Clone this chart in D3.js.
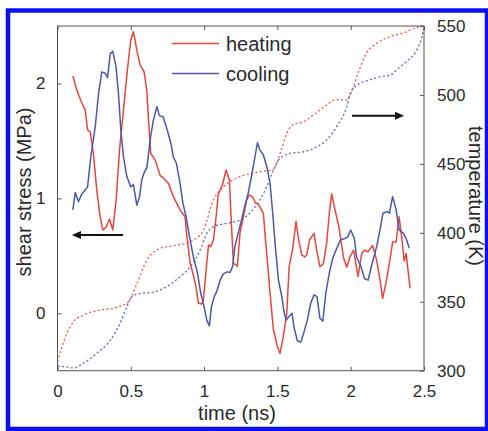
<!DOCTYPE html>
<html>
<head>
<meta charset="utf-8">
<script src="https://cdn.jsdelivr.net/npm/d3@7"></script>
<style>
  html, body { margin: 0; padding: 0; background: #fff; }
  svg text { font-family: "Liberation Sans", Arial, Helvetica, sans-serif; }
</style>
</head>
<body>
<svg id="chart" width="488" height="431"></svg>
<script>
// ---- data ----
const heatingTime = [0.105,0.132,0.166,0.189,0.205,0.223,0.245,0.268,0.291,0.309,0.332,0.355,0.377,0.40,0.423,0.45,0.477,0.50,0.518,0.541,0.564,0.591,0.609,0.62,0.636,0.666,0.70,0.72,0.757,0.79,0.836,0.87,0.88,0.905,0.923,0.945,0.961,0.984,0.995,1.014,1.03,1.045,1.064,1.082,1.097,1.123,1.15,1.173,1.182,1.20,1.227,1.245,1.268,1.29,1.31,1.332,1.35,1.37,1.404,1.427,1.45,1.473,1.50,1.518,1.54,1.564,1.58,1.605,1.627,1.645,1.666,1.686,1.70,1.72,1.75,1.768,1.79,1.813,1.836,1.854,1.87,1.893,1.92,1.95,1.973,1.995,2.02,2.05,2.075,2.095,2.118,2.15,2.177,2.20,2.218,2.24,2.264,2.286,2.31,2.33,2.35,2.365,2.378,2.405];
const heatingStress = [2.065,1.94,1.83,1.77,1.595,1.58,1.39,1.07,0.84,0.725,0.75,0.82,0.725,0.985,1.42,1.77,2.12,2.38,2.45,2.29,2.16,2.10,1.94,1.70,1.39,1.335,1.20,1.18,1.13,1.015,0.90,0.84,0.70,0.435,0.35,0.23,0.087,0.08,0.11,0.376,0.594,0.58,0.64,0.84,1.04,1.11,1.247,1.16,0.88,0.435,0.41,0.70,0.84,0.985,1.03,1.01,0.96,0.95,0.87,0.52,0.174,-0.146,-0.29,-0.35,-0.204,0.0,0.405,0.565,0.80,0.64,0.507,0.49,0.507,0.64,0.695,0.55,0.405,0.43,0.61,0.87,1.04,0.90,0.75,0.49,0.40,0.49,0.55,0.32,0.52,0.55,0.535,0.59,0.46,0.29,0.13,0.26,0.435,0.62,0.62,0.84,0.64,0.455,0.52,0.217];

const coolingTime = [0.105,0.121,0.143,0.166,0.18,0.205,0.227,0.257,0.28,0.302,0.325,0.341,0.36,0.377,0.40,0.416,0.432,0.45,0.473,0.50,0.518,0.541,0.559,0.575,0.59,0.61,0.632,0.654,0.678,0.695,0.72,0.743,0.773,0.79,0.81,0.836,0.855,0.877,0.90,0.927,0.955,0.977,1.0,1.018,1.036,1.05,1.068,1.086,1.11,1.13,1.155,1.177,1.195,1.21,1.232,1.255,1.277,1.30,1.323,1.347,1.364,1.38,1.404,1.427,1.45,1.468,1.486,1.507,1.53,1.547,1.56,1.577,1.60,1.613,1.636,1.66,1.68,1.704,1.727,1.75,1.77,1.79,1.81,1.83,1.854,1.88,1.91,1.93,1.96,1.98,2.0,2.025,2.04,2.07,2.095,2.12,2.14,2.177,2.20,2.22,2.25,2.264,2.286,2.31,2.33,2.36,2.378,2.40];
const coolingStress = [0.90,1.05,0.97,1.04,1.06,1.10,1.36,1.62,1.91,2.10,2.09,2.05,2.26,2.28,2.14,1.91,1.595,1.36,1.19,1.10,1.12,0.94,1.01,1.16,1.22,1.27,1.51,1.68,1.80,1.72,1.71,1.62,1.48,1.36,1.31,1.13,0.96,0.84,0.67,0.49,0.35,0.174,0.057,-0.06,-0.11,0.057,0.14,0.19,0.29,0.34,0.36,0.355,0.41,0.58,0.695,0.81,0.93,1.04,1.19,1.36,1.485,1.42,1.38,1.28,1.13,0.87,0.58,0.29,0.145,0.0,-0.06,-0.03,0.0,-0.12,-0.24,-0.25,-0.17,-0.06,0.087,0.16,0.145,-0.044,-0.07,0.174,0.35,0.49,0.58,0.64,0.65,0.665,0.725,0.65,0.49,0.405,0.30,0.29,0.405,0.58,0.725,0.87,0.885,0.87,1.015,0.90,0.725,0.695,0.65,0.565];

const heatingTempTime = [0,0.03,0.064,0.109,0.177,0.291,0.405,0.484,0.541,0.609,0.70,0.814,0.927,0.995,1.064,1.132,1.245,1.38,1.473,1.518,1.564,1.60,1.68,1.745,1.836,1.90,1.97,2.0,2.05,2.105,2.177,2.268,2.38,2.45,2.5];
const heatingTemp = [306.5,317.4,327,335.5,340.4,344,346,350,363,380,388.8,391,394.8,402,423.8,433.4,440.7,444.3,446,457.6,472,478,480.6,485.4,492.7,496.7,496.3,501,515.7,530,537.4,542.2,545.8,549,550];

const coolingTempTime = [0,0.064,0.109,0.177,0.268,0.36,0.427,0.473,0.507,0.564,0.654,0.745,0.836,0.905,0.973,1.018,1.064,1.155,1.245,1.31,1.38,1.427,1.473,1.518,1.586,1.68,1.77,1.836,1.904,1.973,2.0,2.063,2.13,2.2,2.27,2.325,2.38,2.45,2.485,2.5];
const coolingTemp = [303.4,302.7,302,305.4,312.6,322,334.4,346.4,353.7,356,357,361,368.2,375.4,387.5,399.6,404.5,406.9,409.3,414.1,423.8,433.4,445.5,454,457.6,458.8,462.4,467.3,477,491.4,502,508.4,510.8,513.2,514.4,519.3,524.1,532.5,542,549];

const xTicks = [0, 0.5, 1, 1.5, 2, 2.5];
const xTickLabels = ["0", "0.5", "1", "1.5", "2", "2.5"];
const leftTicks = [0, 1, 2];
const rightTicks = [300, 350, 400, 450, 500, 550];
const seriesNames = ["heating", "cooling"];
const seriesColors = ["#e8453c", "#4c58a8"];

// ---- layout ----
const svg = d3.select("#chart");
const L = 57.5, R = 424, T = 26, B = 370.7;
const x = d3.scaleLinear().domain([0, 2.5]).range([L, R]);
const yL = d3.scaleLinear().domain([-0.5, 2.5]).range([B, T]);
const yR = d3.scaleLinear().domain([300, 550]).range([B, T]);

// blue frame
svg.append("rect").attr("x", 8).attr("y", 10.5).attr("width", 479).attr("height", 418.5)
  .attr("fill", "#fff").attr("stroke", "#0a10f2").attr("stroke-width", 4.5);

const axisColor = "#555";
const textColor = "#2a2a2a";
const tickLen = 4;

const zipper = (ts, vs) => ts.map((t, i) => [t, vs[i]]);

// temperature dotted curves
const tempLine = d3.line().x(d => x(d[0])).y(d => yR(d[1])).curve(d3.curveMonotoneX);
svg.append("path").datum(zipper(heatingTempTime, heatingTemp))
  .attr("d", tempLine).attr("fill", "none").attr("stroke", seriesColors[0])
  .attr("stroke-width", 1.3).attr("stroke-dasharray", "2.2,2.2").attr("opacity", 0.85);
svg.append("path").datum(zipper(coolingTempTime, coolingTemp))
  .attr("d", tempLine).attr("fill", "none").attr("stroke", seriesColors[1])
  .attr("stroke-width", 1.3).attr("stroke-dasharray", "2.2,2.2").attr("opacity", 0.85);

// stress lines
const stressLine = d3.line().x(d => x(d[0])).y(d => yL(d[1]));
svg.append("path").datum(zipper(heatingTime, heatingStress))
  .attr("d", stressLine).attr("fill", "none").attr("stroke", seriesColors[0])
  .attr("stroke-width", 1.5).attr("stroke-linejoin", "round");
svg.append("path").datum(zipper(coolingTime, coolingStress))
  .attr("d", stressLine).attr("fill", "none").attr("stroke", seriesColors[1])
  .attr("stroke-width", 1.5).attr("stroke-linejoin", "round");

// axes box
svg.append("rect").attr("x", L).attr("y", T).attr("width", R - L).attr("height", B - T)
  .attr("fill", "none").attr("stroke", axisColor).attr("stroke-width", 1);

const fontTick = 17;
// bottom axis
const xAxis = d3.axisBottom(x).tickValues(xTicks).tickFormat((d, i) => xTickLabels[i])
  .tickSizeInner(-tickLen).tickSizeOuter(0).tickPadding(14);
const gx = svg.append("g").attr("transform", `translate(0,${B})`).call(xAxis);
// top ticks
const gxt = svg.append("g").attr("transform", `translate(0,${T})`)
  .call(d3.axisTop(x).tickValues(xTicks).tickFormat("").tickSizeInner(-tickLen).tickSizeOuter(0));
// left axis
const gl = svg.append("g").attr("transform", `translate(${L},0)`)
  .call(d3.axisLeft(yL).tickValues(leftTicks).tickFormat(d3.format("d"))
    .tickSizeInner(-tickLen).tickSizeOuter(0).tickPadding(12));
// right axis
const gr = svg.append("g").attr("transform", `translate(${R},0)`)
  .call(d3.axisRight(yR).tickValues(rightTicks).tickFormat(d3.format("d"))
    .tickSizeInner(-tickLen).tickSizeOuter(0).tickPadding(13));

[gx, gxt, gl, gr].forEach(g => {
  g.select(".domain").remove();
  g.selectAll(".tick line").attr("stroke", axisColor);
  g.selectAll(".tick text").attr("fill", textColor).style("font-size", fontTick + "px")
    .style("font-family", '"Liberation Sans", Arial, sans-serif');
});

// axis labels
svg.append("text").attr("transform", "translate(31,192) rotate(-90)")
  .attr("text-anchor", "middle").attr("fill", textColor).style("font-size", "20px")
  .text("shear stress (MPa)");
svg.append("text").attr("transform", "translate(468.5,196) rotate(90)")
  .attr("text-anchor", "middle").attr("fill", textColor).style("font-size", "20px")
  .text("temperature (K)");
svg.append("text").attr("x", 237).attr("y", 420).attr("text-anchor", "middle")
  .attr("fill", textColor).style("font-size", "20px").text("time (ns)");

// legend
const legendY = [43.5, 73.5];
seriesNames.forEach((name, i) => {
  svg.append("line").attr("x1", 172).attr("x2", 219).attr("y1", legendY[i]).attr("y2", legendY[i])
    .attr("stroke", seriesColors[i]).attr("stroke-width", 1.5);
  svg.append("text").attr("x", 226).attr("y", legendY[i] + 7).attr("fill", textColor)
    .style("font-size", "20px").text(name);
});

// arrows
function arrow(xFrom, xTo, yv) {
  const dir = Math.sign(xTo - xFrom);
  const head = 9, hw = 4;
  svg.append("line").attr("x1", xFrom).attr("x2", xTo - dir * head).attr("y1", yv).attr("y2", yv)
    .attr("stroke", "#111").attr("stroke-width", 2);
  svg.append("path")
    .attr("d", `M${xTo},${yv} L${xTo - dir * head},${yv - hw} L${xTo - dir * head},${yv + hw} Z`)
    .attr("fill", "#111");
}
arrow(123, 72, 235);
arrow(352, 404, 115.7);
</script>
</body>
</html>
